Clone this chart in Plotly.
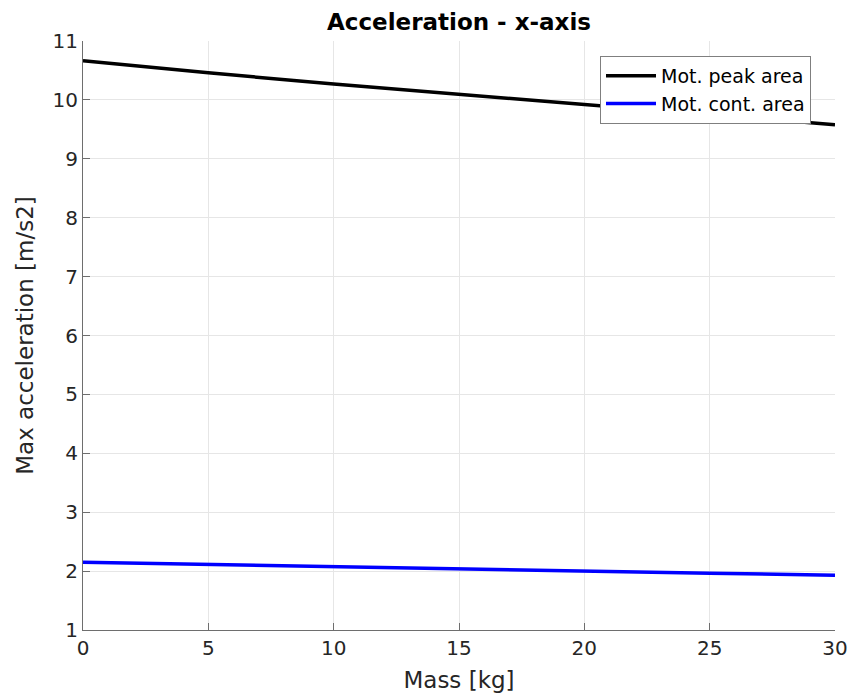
import plotly.graph_objects as go

mass = [0, 5, 10, 15, 20, 25, 30]
peak_acc = [10.665, 10.46, 10.27, 10.09, 9.92, 9.75, 9.58]
cont_acc = [2.15, 2.11, 2.07, 2.035, 2.0, 1.965, 1.93]

fig = go.Figure()
fig.add_trace(go.Scatter(x=mass, y=peak_acc, mode="lines", name="Mot. peak area",
                         line=dict(color="black", width=3.5)))
fig.add_trace(go.Scatter(x=mass, y=cont_acc, mode="lines", name="Mot. cont. area",
                         line=dict(color="blue", width=3.5)))

font = "DejaVu Sans, sans-serif"
fig.update_layout(
    width=852, height=695,
    margin=dict(l=83, r=17, t=41, b=65),
    paper_bgcolor="white", plot_bgcolor="white",
    font=dict(family=font, color="#262626", size=20),
    title=dict(text="<b>Acceleration - x-axis</b>", x=459 / 852, xanchor="center",
               y=1 - 22 / 695, yanchor="middle", font=dict(size=23, color="black")),
    showlegend=True,
    legend=dict(x=(600 - 83) / 752, y=(630 - 56) / 589, xanchor="left", yanchor="top",
                bgcolor="white", bordercolor="#7f7f7f", borderwidth=1,
                font=dict(size=19, color="black"), tracegroupgap=0,
                itemwidth=50),
)
fig.update_xaxes(range=[0, 30], tickvals=[0, 5, 10, 15, 20, 25, 30],
                 showgrid=True, gridcolor="#e6e6e6", gridwidth=1,
                 showline=True, linecolor="#6e6e6e", linewidth=1,
                 ticks="inside", ticklen=7, tickcolor="#6e6e6e",
                 zeroline=False, automargin=False,
                 title=dict(text="Mass [kg]", font=dict(size=23), standoff=12),
                 tickfont=dict(size=20))
fig.update_yaxes(range=[1, 11], tickvals=list(range(1, 12)),
                 showgrid=True, gridcolor="#e6e6e6", gridwidth=1,
                 showline=True, linecolor="#6e6e6e", linewidth=1,
                 ticks="inside", ticklen=7, tickcolor="#6e6e6e",
                 zeroline=False, automargin=False,
                 title=dict(text="Max acceleration [m/s2]", font=dict(size=23), standoff=12),
                 tickfont=dict(size=20))

fig.write_html("out.html", config={"displayModeBar": False},
               post_script="document.body.style.margin='0';")
